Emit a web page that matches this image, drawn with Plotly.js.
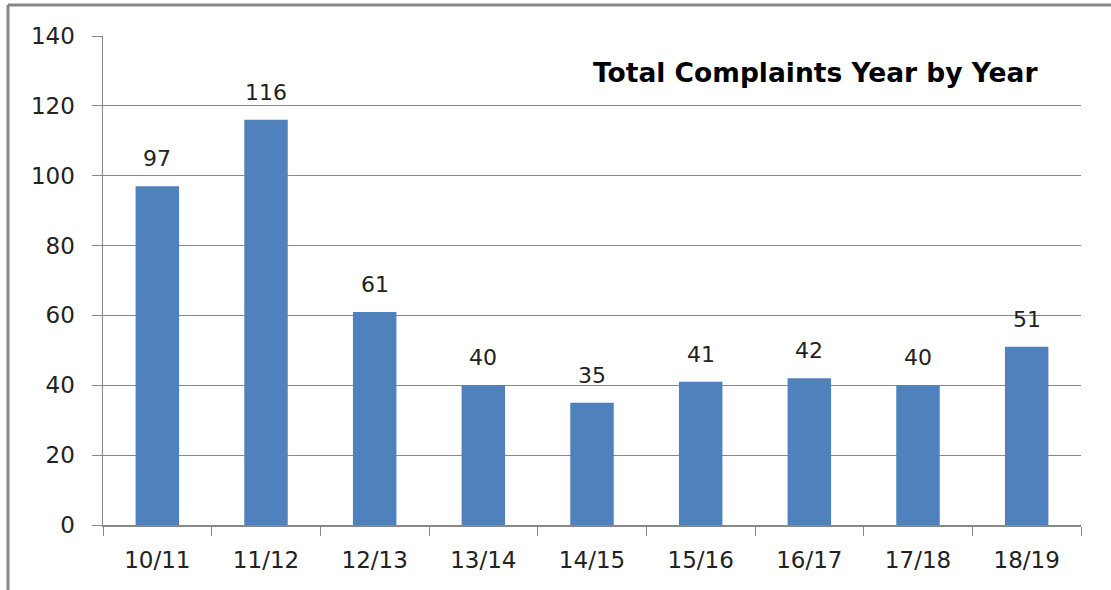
<!DOCTYPE html>
<html><head><meta charset="utf-8">
<script src="https://cdn.plot.ly/plotly-3.0.1.min.js"></script>
<style>html,body{margin:0;padding:0;background:#fff}#chart{width:1111px;height:590px}</style>
</head><body><div id="chart"></div>
<script>
const categories = ["10/11","11/12","12/13","13/14","14/15","15/16","16/17","17/18","18/19"];
const complaints = [97,116,61,40,35,41,42,40,51];
const chartTitle = "Total Complaints Year by Year";

const L=103, R=30, T=36, B=65, W=1111, H=590;
const pw=W-L-R, ph=H-T-B;
const px = x => (x-L)/pw;
const py = y => (H-B-y)/ph;
const FONT = 'DejaVu Sans, sans-serif';

Plotly.newPlot('chart',[{
  type:'bar', x:categories, y:complaints,
  marker:{color:'#4F81BD'},
  hoverinfo:'none'
}],{
  width:W, height:H, margin:{l:L,r:R,t:T,b:B},
  paper_bgcolor:'#fff', plot_bgcolor:'#fff',
  bargap:0.6, showlegend:false,
  font:{family:FONT, size:22, color:'#222'},
  xaxis:{type:'category', tickson:'boundaries', ticks:'outside', ticklen:9, tickcolor:'#888',
    showline:true, linecolor:'#888', linewidth:1.5, showgrid:false, ticklabelstandoff:14,
    tickfont:{family:FONT, size:23, color:'#222'}},
  yaxis:{range:[0,140], dtick:20, ticks:'outside', ticklen:10, tickcolor:'#888',
    showline:true, linecolor:'#888', linewidth:1.5, gridcolor:'#888', gridwidth:1,
    zeroline:false, ticklabelstandoff:12, tickfont:{family:FONT, size:23, color:'#222'}},
  annotations:[{text:'<b>'+chartTitle+'</b>', xref:'paper', yref:'paper',
    x:px(1040), y:py(72), xanchor:'right', yanchor:'middle', showarrow:false,
    font:{family:'DejaVu Sans, sans-serif', size:26.5, color:'#000'}}].concat(
    complaints.map((v,i)=>({x:categories[i], y:v, xref:'x', yref:'y', text:String(v),
      showarrow:false, yanchor:'bottom', yshift:13,
      font:{family:FONT, size:22, color:'#222'}}))),
  shapes:[
    {type:'line', xref:'paper', yref:'paper', x0:px(8), x1:px(1115), y0:py(5), y1:py(5), line:{color:'#888', width:3}},
    {type:'line', xref:'paper', yref:'paper', x0:px(8), x1:px(8), y0:py(5), y1:py(595), line:{color:'#888', width:3}}
  ]
},{staticPlot:true});
</script></body></html>
